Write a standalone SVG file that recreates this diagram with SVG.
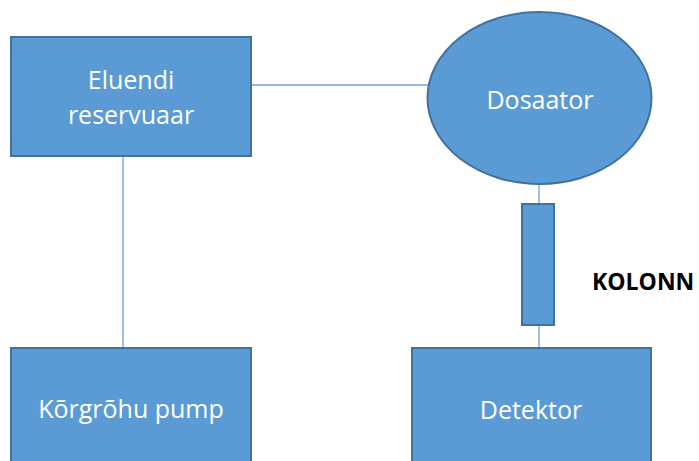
<svg xmlns="http://www.w3.org/2000/svg" width="699" height="461" viewBox="0 0 699 461">
<style>
.box{fill:#5b9bd5;stroke:#41719c;stroke-width:2}
.lbl{font-family:"Open Sans","Noto Sans",sans-serif;font-size:25px;fill:#ffffff;text-anchor:middle}
.con{stroke:#6fa3d9;stroke-width:1.3;fill:none}
</style>
<rect width="699" height="461" fill="#ffffff"/>
<g id="connectors">
<line class="con" x1="252" y1="85" x2="428" y2="85"/>
<line class="con" x1="123" y1="157" x2="123" y2="347"/>
<line class="con" x1="539" y1="184" x2="539" y2="204"/>
<line class="con" x1="539" y1="326" x2="539" y2="347"/>
</g>
<g id="eluendi">
<rect class="box" x="11" y="37" width="240" height="119"/>
<text class="lbl" x="131" y="89">Eluendi</text>
<text class="lbl" x="131" y="124">reservuaar</text>
</g>
<g id="dosaator">
<ellipse class="box" cx="539.5" cy="98" rx="112" ry="86"/>
<text class="lbl" x="540" y="109">Dosaator</text>
</g>
<g id="kolonn">
<rect class="box" x="522" y="204" width="32" height="121"/>
<text x="592" y="290" font-family="'Open Sans','Noto Sans',sans-serif" font-size="23" font-weight="bold" fill="#000000">KOLONN</text>
</g>
<g id="pump">
<rect class="box" x="11" y="348" width="240" height="120"/>
<text class="lbl" x="131" y="418">Kõrgrõhu pump</text>
</g>
<g id="detektor">
<rect class="box" x="412" y="348" width="239" height="120"/>
<text class="lbl" x="531" y="419">Detektor</text>
</g>
</svg>
